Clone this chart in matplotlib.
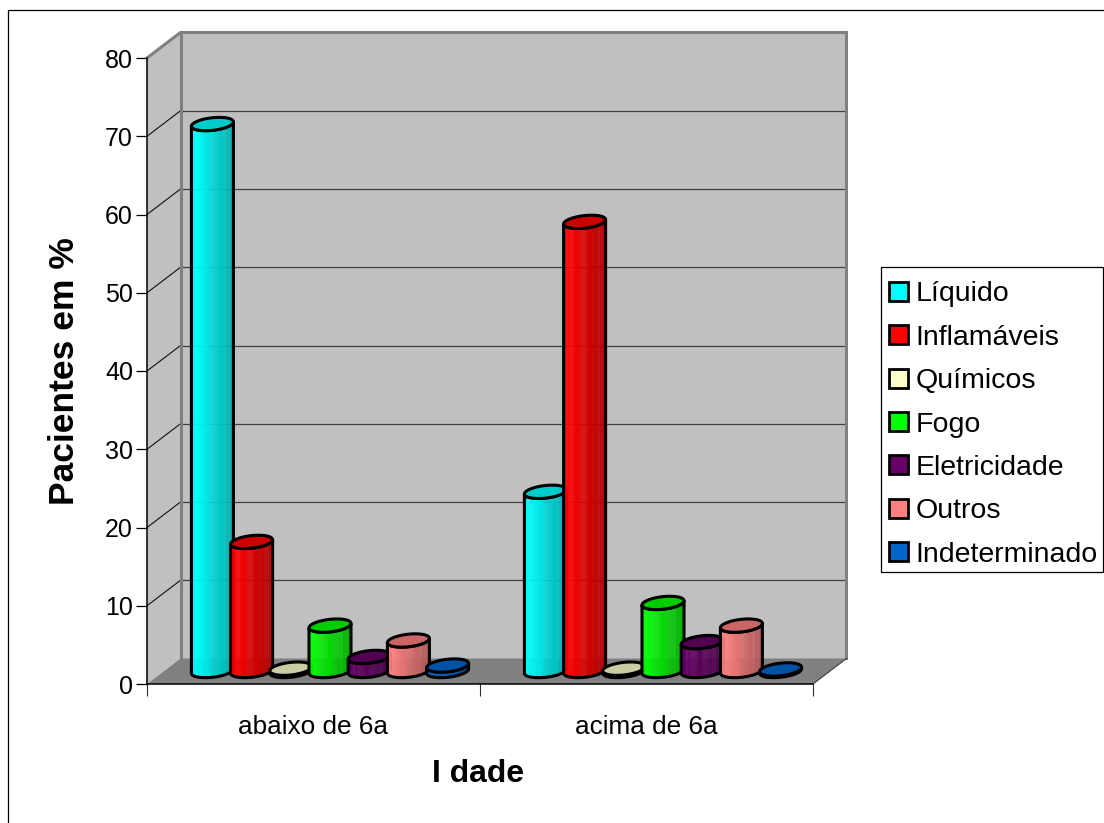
import numpy as np
import matplotlib
matplotlib.use("Agg")
import matplotlib.pyplot as plt
from matplotlib.collections import PolyCollection
from matplotlib.patches import Patch, Polygon, Rectangle

plt.rcParams["font.family"] = ["Liberation Sans", "DejaVu Sans"]

# Burn injury causes, percentage of patients per age group
groups = ["abaixo de 6a", "acima de 6a"]
causes = ["Líquido", "Inflamáveis", "Químicos", "Fogo", "Eletricidade", "Outros", "Indeterminado"]
below_six = [69.9, 16.5, 0.3, 5.8, 1.8, 3.9, 0.7]
above_six = [22.9, 57.4, 0.3, 8.7, 3.7, 5.8, 0.2]
y_ticks = [0, 10, 20, 30, 40, 50, 60, 70, 80]
colors = ["#00FFFF", "#FF0000", "#FFFFCC", "#00FF00", "#660066", "#FF8080", "#0066CC"]

W, H = 1104, 823
DPI = 100
fig = plt.figure(figsize=(W / DPI, H / DPI), dpi=DPI, facecolor="white")

# Front plane of the 3D box
LEFT, RIGHT, TOP, BOTTOM = 147, 813, 58, 684
ax = fig.add_axes([LEFT / W, 1 - BOTTOM / H, (RIGHT - LEFT) / W, (BOTTOM - TOP) / H])
ax.set_xlim(0, 2)
ax.set_ylim(0, 80)
ax.patch.set_visible(False)
XS = (RIGHT - LEFT) / 2   # pixels per category
YS = (BOTTOM - TOP) / 80  # pixels per percentage point
DEPTH_X, DEPTH_Y = 33.5 / XS, 25.5 / YS


def shade(color, f):
    return tuple(np.clip(np.array(matplotlib.colors.to_rgb(color)) * f, 0, 1))


# Walls and floor of the box
ax.add_patch(Polygon([(DEPTH_X, DEPTH_Y), (2 + DEPTH_X, DEPTH_Y), (2 + DEPTH_X, 80 + DEPTH_Y), (DEPTH_X, 80 + DEPTH_Y)],
                     fc="#C0C0C0", ec="none", clip_on=False, zorder=1))
ax.add_patch(Polygon([(0, 0), (DEPTH_X, DEPTH_Y), (DEPTH_X, 80 + DEPTH_Y), (0, 80)],
                     fc="#C0C0C0", ec="none", clip_on=False, zorder=1))
ax.add_patch(Polygon([(0, 0), (2, 0), (2 + DEPTH_X, DEPTH_Y), (DEPTH_X, DEPTH_Y)],
                     fc="#808080", ec="none", clip_on=False, zorder=1))
for v in y_ticks[1:-1]:
    ax.plot([DEPTH_X, 2 + DEPTH_X], [v + DEPTH_Y, v + DEPTH_Y], color="#404040", lw=0.9, clip_on=False, zorder=2)
    ax.plot([0, DEPTH_X], [v, v + DEPTH_Y], color="#101010", lw=0.8, clip_on=False, zorder=2)
ax.plot([0, 0 + DEPTH_X, 2 + DEPTH_X, 2 + DEPTH_X], [80, 80 + DEPTH_Y, 80 + DEPTH_Y, DEPTH_Y],
        color="#808080", lw=2.2, clip_on=False, zorder=2, solid_joinstyle="miter")
ax.plot([DEPTH_X, DEPTH_X], [DEPTH_Y, 80 + DEPTH_Y], color="#808080", lw=2.2, clip_on=False, zorder=2)
ax.plot([2, 2 + DEPTH_X], [0, DEPTH_Y], color="#404040", lw=0.8, clip_on=False, zorder=2)

# Cylinder geometry, in pixels
PITCH = 39.2 / XS
RX, RY, TILT = 21.0, 6.3, 2.2
FLOOR_X = 16.5 / XS
FLOOR_Y = 13 / YS
STREAKS = {41: 1.1, 48: 1.12, 53: 1.1, 56: 1.08}
N = 60


def rim(cx, cy, t):
    return cx + RX * np.cos(t) / XS, cy + (RY * np.sin(t) + TILT * np.cos(t)) / YS


def cylinder(cx, base, value, color, z):
    top = base + value
    t = np.linspace(np.pi, 2 * np.pi, N + 1)
    xb, yb = rim(cx, base, t)
    xt, yt = rim(cx, top, t)
    strips, fills = [], []
    for i in range(N):
        strips.append([(xb[i], yb[i]), (xb[i + 1], yb[i + 1]), (xt[i + 1], yt[i + 1]), (xt[i], yt[i])])
        u = (np.cos(t[i]) + 1) / 2
        f = (1.0 if u < 0.12 else 1.0 - 0.34 * (u - 0.12) / 0.88) * STREAKS.get(i, 1.0)
        fills.append(shade(color, f))
    body = PolyCollection(strips, facecolors=fills, edgecolors=fills, linewidths=0.2, clip_on=False, zorder=z)
    ax.add_collection(body)
    outline = list(zip(xb, yb)) + list(zip(xt[::-1], yt[::-1]))
    ax.add_patch(Polygon(outline, closed=True, fc="none", ec="black", lw=2.2, clip_on=False, zorder=z + 0.1))
    a = np.linspace(0, 2 * np.pi, 80)
    xc, yc = rim(cx, top, a)
    ax.add_patch(Polygon(np.column_stack([xc, yc]), closed=True, fc=shade(color, 0.8), ec="black", lw=2.2,
                         clip_on=False, zorder=z + 0.2))


z = 3
for g, values in enumerate([below_six, above_six]):
    for s, (value, color) in enumerate(zip(values, colors)):
        cylinder(g + 0.5 + (s - 3) * PITCH + FLOOR_X, FLOOR_Y, value, color, z)
        z += 1

# Axes, ticks and labels
for side in ("top", "right"):
    ax.spines[side].set_visible(False)
for side in ("left", "bottom"):
    ax.spines[side].set_linewidth(1.1)
    ax.spines[side].set_zorder(50)
ax.set_yticks(y_ticks)
ax.set_xticks([0, 1, 2])
ax.set_xticklabels([])
ax.set_xticks([0.5, 1.5], minor=True)
ax.set_xticklabels(groups, minor=True, fontsize=18.8)
ax.tick_params(axis="x", which="major", length=8.6, width=0.8, color="#303030")
ax.tick_params(axis="x", which="minor", length=0, pad=22.5)
ax.tick_params(axis="y", length=8, width=0.9, labelsize=18, pad=2)
fig.text(478.5 / W, 1 - 774 / H, "I dade", fontsize=23, fontweight="bold", ha="center", va="center")
fig.text(65 / W, 1 - 371 / H, "Pacientes em %", fontsize=25.5, fontweight="bold", rotation=90, ha="center", va="center")

# Legend and chart frames
fig.add_artist(Rectangle((8 / W, -0.01), (W + 10) / W, 1 - 10 / H + 0.01, transform=fig.transFigure,
                         fc="none", ec="black", lw=0.9))
fig.add_artist(Rectangle((881 / W, 1 - 572 / H), (W - 881 - 1) / W, 305 / H, transform=fig.transFigure,
                         fc="white", ec="black", lw=0.9, zorder=60))
handles = [Patch(fc=c, ec="black", lw=2.0) for c in colors]
leg = fig.legend(handles, causes, loc="center left", bbox_to_anchor=(889 / W, 1 - 424.5 / H), frameon=False,
                 fontsize=20.5, handlelength=0.66, handleheight=0.66, handletextpad=0.28, labelspacing=0.61,
                 borderpad=0, borderaxespad=0)
leg.set_zorder(61)

fig.savefig("out.png", dpi=DPI)
